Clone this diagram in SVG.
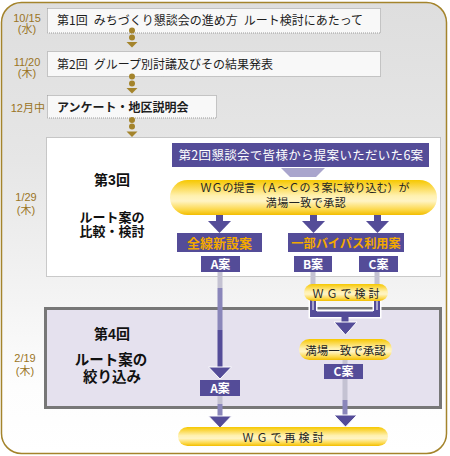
<svg xmlns="http://www.w3.org/2000/svg" width="450" height="456" viewBox="0 0 450 456">
<defs>
<linearGradient id="bg" x1="0" y1="0" x2="0" y2="1">
<stop offset="0" stop-color="#dedede"/>
<stop offset="0.35" stop-color="#e6e6e6"/>
<stop offset="0.62" stop-color="#f2f2f2"/>
<stop offset="0.85" stop-color="#fdfdfd"/>
<stop offset="1" stop-color="#ffffff"/>
</linearGradient>
<linearGradient id="yel" x1="0" y1="0" x2="0" y2="1">
<stop offset="0" stop-color="#f6c800"/>
<stop offset="0.2" stop-color="#fbd94e"/>
<stop offset="0.45" stop-color="#fff1b0"/>
<stop offset="0.6" stop-color="#fff4c4"/>
<stop offset="0.85" stop-color="#fcd84a"/>
<stop offset="1" stop-color="#f2bd00"/>
</linearGradient>
</defs>
<style>
.t{font-family:"Noto Sans CJK JP","Noto Sans CJK SC",sans-serif;}
.row{fill:#f8f8f8;stroke:#9a9a9a;stroke-width:1;stroke-dasharray:1 1;}
.date{font-family:"Liberation Sans","Noto Sans CJK JP",sans-serif;font-size:11px;fill:#9a7424;text-anchor:middle;}
.rt{font-size:12px;fill:#1e1e1e;}
.pu{fill:#544c98;}
.pill{fill:url(#yel);}
.wt{fill:#fff;font-weight:bold;text-anchor:middle;}
.or{fill:#f2a800;font-weight:bold;text-anchor:middle;}
.dk{fill:#222;text-anchor:middle;}
.hd{font-family:"Liberation Sans","Noto Sans CJK JP",sans-serif;fill:#111;font-weight:bold;text-anchor:middle;}
.dot{fill:#a4842c;}
.gl{fill:#c4c2d2;}
.lp{fill:#8a86ba;}
.ar{fill:#544c98;stroke:#fff;stroke-width:1;}
</style>
<rect x="1.5" y="2.5" width="445" height="451" rx="20" fill="url(#bg)" stroke="#a4842c" stroke-width="1.5"/>

<g id="dates" class="date">
<text x="27" y="21.5">10/15</text><text x="27" y="32.5">(水)</text>
<text x="27" y="65.5">11/20</text><text x="27" y="76.5">(木)</text>
<text x="45" y="112" style="text-anchor:end">12月中</text>
<text x="26" y="201">1/29</text><text x="26" y="214">(木)</text>
<text x="25" y="362">2/19</text><text x="25" y="375">(木)</text>
</g>

<g id="round1">
<rect class="row" x="47.5" y="8.5" width="333" height="24.5"/>
<text class="t rt" x="57" y="24.5">第1回&#x2002;みちづくり懇談会の進め方&#x2002;ルート検討にあたって</text>
</g>
<g id="round2">
<rect class="row" x="47.5" y="51.5" width="333" height="25"/>
<text class="t rt" x="57" y="69">第2回&#x2002;グループ別討議及びその結果発表</text>
</g>
<g id="survey">
<rect class="row" x="47.5" y="95.5" width="169" height="22.5"/>
<text class="t rt" x="57" y="112" style="font-weight:bold">アンケート・地区説明会</text>
</g>

<g id="round3">
<rect x="46.5" y="137.5" width="394" height="139" fill="#ffffff" stroke="#9a9a9a" stroke-dasharray="1 1"/>
<text class="hd" x="112" y="185" style="font-size:14px">第3回</text>
<text class="hd" x="112" y="221.5" style="font-size:13px">ルート案の</text>
<text class="hd" x="112" y="236" style="font-size:13px">比較・検討</text>
</g>

<g id="round4">
<rect x="45.5" y="308.5" width="395" height="99" fill="#e5e1ee" stroke="#777777" stroke-width="3"/>
<text class="hd" x="112" y="339" style="font-size:14px">第4回</text>
<text class="hd" x="111" y="365" style="font-size:14.5px">ルート案の</text>
<text class="hd" x="112" y="381.5" style="font-size:14.5px">絞り込み</text>
</g>

<g id="connectors">
<circle class="dot" cx="132" cy="30.5" r="3"/><circle class="dot" cx="132" cy="37.5" r="3"/>
<polygon class="dot" points="126.5,42 137.5,42 132,47.5"/>
<circle class="dot" cx="132" cy="76.5" r="3"/><circle class="dot" cx="132" cy="83.5" r="3"/>
<polygon class="dot" points="126.5,88 137.5,88 132,93.5"/>
<circle class="dot" cx="132" cy="120" r="3"/><circle class="dot" cx="132" cy="126.5" r="3"/>
<polygon class="dot" points="126.5,131.5 137.5,131.5 132,137"/>

<polygon points="281,168 325,168 316,177 290,177" fill="#a9a5cd"/>

<rect class="pu" x="216" y="214" width="7" height="8"/><polygon class="pu" points="208,221 231,221 219.5,233"/>
<rect class="pu" x="310" y="214" width="7" height="8"/><polygon class="pu" points="302,221 325,221 313.5,233"/>
<rect class="pu" x="374" y="214" width="7" height="8"/><polygon class="pu" points="366,221 389,221 377.5,233"/>

<rect class="gl" x="217.5" y="272" width="5" height="16"/>
<rect class="lp" x="217.5" y="288" width="5" height="42"/>
<rect class="pu" x="217.5" y="330" width="5" height="38"/>
<polygon class="ar" points="208.5,367 231.5,367 220,379"/>
<rect class="gl" x="217.5" y="396" width="5" height="8"/>
<rect class="lp" x="217.5" y="404" width="5" height="13"/>
<polygon class="ar" points="208.5,416 231.5,416 220,428"/>

<rect class="gl" x="310.5" y="272" width="5" height="13"/>
<rect class="gl" x="374.5" y="272" width="5" height="13"/>
<path d="M313,300 V314 H377 V300" fill="none" stroke="#ffffff" stroke-width="9"/>
<path d="M313,300 V314 H377 V300" fill="none" stroke="#544c98" stroke-width="6"/>
<path d="M313,300 V310 M377,300 V310 M317,311 H373" fill="none" stroke="#ffffff" stroke-width="1"/>
<rect class="pu" x="341.5" y="316" width="7" height="8"/>
<polygon class="ar" points="334,322 357,322 345.5,335"/>

<rect class="gl" x="342.5" y="359" width="5" height="6"/>
<rect class="gl" x="342.5" y="379" width="5" height="21"/>
<rect class="lp" x="342.5" y="400" width="5" height="16"/>
<polygon class="ar" points="334,415 357,415 345.5,427"/>
</g>

<g id="proposals6">
<rect class="pu" x="172" y="143" width="257" height="24"/>
<text class="t wt" x="301" y="159.5" style="font-size:12.5px;font-weight:normal;letter-spacing:0.3px">第2回懇談会で皆様から提案いただいた6案</text>
</g>

<g id="wg-proposal">
<rect class="pill" x="170" y="180" width="267" height="35" rx="17.5"/>
<text class="t dk" x="305" y="192" style="font-size:11px">ＷＧの提言（Ａ～Ｃの３案に絞り込む）が</text>
<text class="t dk" x="306" y="207" style="font-size:11px;letter-spacing:0.5px">満場一致で承認</text>
</g>

<g id="all-new">
<rect class="pu" x="177" y="233" width="85" height="19"/>
<text class="t or" x="219.5" y="247.5" style="font-size:13px">全線新設案</text>
</g>
<g id="partial-bypass">
<rect class="pu" x="288" y="233" width="116" height="19"/>
<text class="t or" x="346" y="247.5" style="font-size:12.2px">一部バイパス利用案</text>
</g>

<g id="planA">
<rect class="pu" x="201" y="256" width="39" height="16"/>
<text class="t wt" x="220.5" y="268.5" style="font-size:12px">A案</text>
</g>
<g id="planB">
<rect class="pu" x="294" y="256" width="38" height="16"/>
<text class="t wt" x="313" y="268.5" style="font-size:12px">B案</text>
</g>
<g id="planC">
<rect class="pu" x="359" y="256" width="39" height="16"/>
<text class="t wt" x="378.5" y="268.5" style="font-size:12px">C案</text>
</g>

<g id="wg-review">
<rect class="pill" x="304" y="284" width="84" height="17" rx="8.5"/>
<text class="t dk" x="347.5" y="297.5" style="font-size:11px;letter-spacing:3px">ＷＧで検討</text>
</g>

<g id="approval">
<rect class="pill" x="299" y="339" width="93" height="21" rx="10.5"/>
<text class="t dk" x="345.5" y="354.5" style="font-size:11.5px">満場一致で承認</text>
</g>

<g id="planA2">
<rect class="pu" x="200" y="380" width="40" height="16"/>
<text class="t wt" x="220" y="392.5" style="font-size:12px">A案</text>
</g>
<g id="planC2">
<rect class="pu" x="324" y="364" width="39" height="15"/>
<text class="t wt" x="343.5" y="376" style="font-size:12px">C案</text>
</g>

<g id="wg-rereview">
<rect class="pill" x="178" y="427" width="210" height="19" rx="9.5"/>
<text class="t dk" x="284.5" y="441.5" style="font-size:11px;letter-spacing:3px">ＷＧで再検討</text>
</g>
</svg>
